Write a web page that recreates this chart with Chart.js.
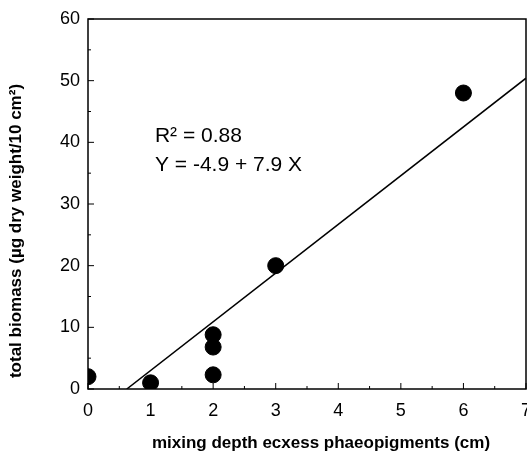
<!DOCTYPE html>
<html>
<head>
<meta charset="utf-8">
<script src="https://cdn.jsdelivr.net/npm/chart.js@4"></script>
<style>
    body { margin: 0; background: #fff; }
    #wrap { width: 527px; height: 452px; }
</style>
</head>
<body>
<div id="wrap"><canvas id="biomassChart" width="527" height="452"></canvas></div>
<script>
// observed points
var depthX = [0, 1, 2, 2, 2, 3, 6];
var biomassY = [2, 1, 8.8, 6.8, 2.3, 20, 48];

// regression Y = -4.9 + 7.9 X, drawn between these x values
var fitA = -4.9;
var fitB = 7.9;
var fitX = [0.62, 7];

var xTicks = [0, 1, 2, 3, 4, 5, 6, 7];
var yTicks = [0, 10, 20, 30, 40, 50, 60];

var notes = ['R\u00B2 = 0.88', 'Y = -4.9 + 7.9 X'];
var xTitle = 'mixing depth ecxess phaeopigments (cm)';
var yTitle = 'total biomass (\u00B5g dry weight/10 cm\u00B2)';

var pts = depthX.map(function (x, i) { return { x: x, y: biomassY[i] }; });
var fitPts = fitX.map(function (x) { return { x: x, y: fitA + fitB * x }; });

var FONT = '"Liberation Sans", Arial, sans-serif';

// clip marks to plot box, then frame + inward ticks + text
var framePlugin = {
    id: 'frame',
    beforeDatasetsDraw: function (chart) {
        var c = chart.ctx, a = chart.chartArea;
        c.save();
        c.beginPath();
        c.rect(a.left, a.top, a.right - a.left, a.bottom - a.top);
        c.clip();
    },
    afterDatasetsDraw: function (chart) {
        var c = chart.ctx, a = chart.chartArea;
        var xs = chart.scales.x, ys = chart.scales.y;
        c.restore();
        c.save();
        c.strokeStyle = '#000';
        c.lineWidth = 1.5;
        c.strokeRect(a.left, a.top, a.right - a.left, a.bottom - a.top);
        c.lineWidth = 1;
        c.beginPath();
        for (var v = 0; v <= 7; v += 0.5) {
            var px = xs.getPixelForValue(v);
            var len = (v % 1 === 0) ? 6 : 3;
            c.moveTo(px, a.bottom);
            c.lineTo(px, a.bottom - len);
        }
        for (var w = 0; w <= 60; w += 5) {
            var py = ys.getPixelForValue(w);
            var l2 = (w % 10 === 0) ? 6 : 3;
            c.moveTo(a.left, py);
            c.lineTo(a.left + l2, py);
        }
        c.stroke();

        c.fillStyle = '#000';
        c.font = '21px ' + FONT;
        c.textBaseline = 'middle';
        c.fillText(notes[0], xs.getPixelForValue(1.07), ys.getPixelForValue(41.0));
        c.fillText(notes[1], xs.getPixelForValue(1.07), ys.getPixelForValue(36.3));

        // axis titles
        c.font = 'bold 17px ' + FONT;
        c.textAlign = 'center';
        c.textBaseline = 'alphabetic';
        c.fillText(xTitle, 321, 448);
        c.translate(16, 231);
        c.rotate(-Math.PI / 2);
        c.textBaseline = 'middle';
        c.fillText(yTitle, 0, 0);
        c.restore();
    }
};

var tickFont = { family: FONT, size: 18 };

new Chart(document.getElementById('biomassChart').getContext('2d'), {
    type: 'scatter',
    data: {
        datasets: [{
            data: pts,
            backgroundColor: '#000',
            borderColor: '#000',
            pointRadius: 8
        }, {
            type: 'line',
            data: fitPts,
            borderColor: '#000',
            borderWidth: 1.5,
            pointRadius: 0,
            fill: false
        }]
    },
    options: {
        responsive: false,
        animation: false,
        layout: { autoPadding: false, padding: { top: 19, right: 1, left: 0, bottom: 0 } },
        plugins: {
            legend: { display: false },
            tooltip: { enabled: false }
        },
        scales: {
            x: {
                type: 'linear',
                min: 0,
                max: 7,
                afterFit: function (s) { s.height = 63; s.paddingLeft = 0; s.paddingRight = 0; },
                afterBuildTicks: function (s) { s.ticks = xTicks.map(function (v) { return { value: v }; }); },
                grid: { display: false, drawTicks: false },
                border: { display: false },
                ticks: { color: '#000', font: tickFont, padding: 11, maxRotation: 0 }
            },
            y: {
                type: 'linear',
                min: 0,
                max: 60,
                afterFit: function (s) { s.width = 88; s.paddingTop = 0; s.paddingBottom = 0; },
                afterBuildTicks: function (s) { s.ticks = yTicks.map(function (v) { return { value: v }; }); },
                grid: { display: false, drawTicks: false },
                border: { display: false },
                ticks: { color: '#000', font: tickFont, padding: 8 }
            }
        }
    },
    plugins: [framePlugin]
});
</script>
</body>
</html>
